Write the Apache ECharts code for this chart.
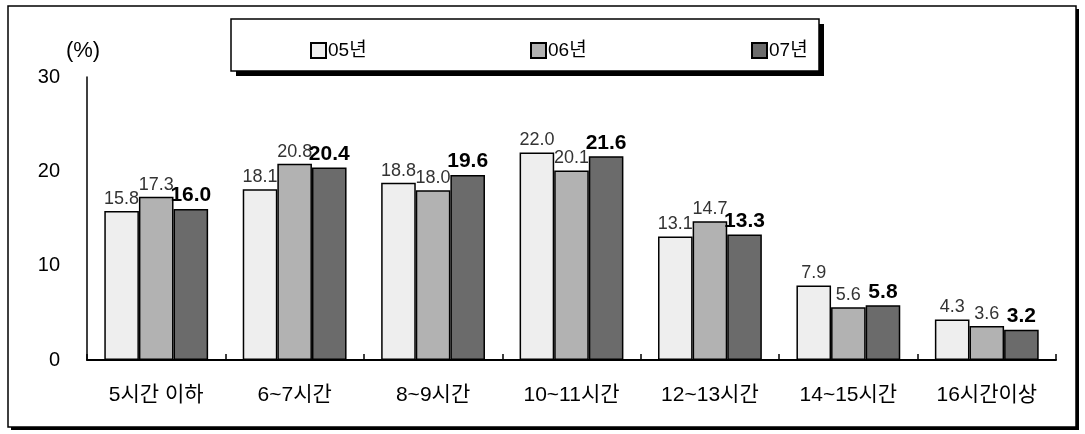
<!DOCTYPE html>
<html>
<head>
<meta charset="utf-8">
<script src="https://cdn.jsdelivr.net/npm/echarts@6/dist/echarts.min.js"></script>
<style>
html,body{margin:0;padding:0;background:#fff;}
#c{width:1085px;height:434px;}
</style>
</head>
<body>
<div id="c"></div>
<script>
const categories = ['5시간 이하', '6~7시간', '8~9시간', '10~11시간', '12~13시간', '14~15시간', '16시간이상'];
const seriesNames = ['05년', '06년', '07년'];
const values05 = [15.8, 18.1, 18.8, 22.0, 13.1, 7.9, 4.3];
const values06 = [17.3, 20.8, 18.0, 20.1, 14.7, 5.6, 3.6];
const values07 = [16.0, 20.4, 19.6, 21.6, 13.3, 5.8, 3.2];
const yTicks = [0, 10, 20, 30];

const colors = ['#eeeeee', '#b2b2b2', '#6b6b6b'];
const FONT = "'Liberation Sans', 'Noto Sans CJK KR', sans-serif";

const chart = echarts.init(document.getElementById('c'), null, {renderer: 'canvas'});

function mkSeries(name, data, color, bold) {
  return {
    name: name,
    type: 'bar',
    data: data,
    barGap: '0%',
    barCategoryGap: '25%',
    itemStyle: {color: color, borderColor: '#000', borderWidth: 1.5},
    label: {
      show: true,
      position: 'top',
      distance: 3,
      formatter: p => p.value.toFixed(1),
      fontFamily: FONT,
      fontSize: bold ? 21 : 18,
      fontWeight: bold ? 'bold' : 'normal',
      color: bold ? '#000' : '#333'
    }
  };
}

const legendBase = {
  orient: 'horizontal',
  top: 36,
  itemWidth: 15,
  itemHeight: 15,
  itemGap: 4,
  icon: 'rect',
  textStyle: {fontFamily: FONT, fontSize: 19, color: '#000', padding: [0,0,0,-3]},
  selectedMode: false
};

chart.setOption({
  animation: false,
  backgroundColor: '#fff',
  graphic: [
    {type: 'rect', z: -10, shape: {x: 11, y: 9, width: 1068, height: 421}, style: {fill: '#000'}},
    {type: 'rect', z: -9, shape: {x: 8, y: 6, width: 1068, height: 421}, style: {fill: '#fff', stroke: '#000', lineWidth: 1.5}},
    {type: 'rect', z: -8, shape: {x: 236, y: 24, width: 588, height: 52}, style: {fill: '#000'}},
    {type: 'rect', z: -7, shape: {x: 231, y: 19, width: 588, height: 52}, style: {fill: '#fff', stroke: '#000', lineWidth: 1.5}}
  ],
  legend: [
    Object.assign({}, legendBase, {left: 305, data: [seriesNames[0]]}),
    Object.assign({}, legendBase, {left: 525, data: [seriesNames[1]]}),
    Object.assign({}, legendBase, {left: 746, data: [seriesNames[2]]})
  ],
  grid: {left: 87, right: 29, top: 77, bottom: 74, containLabel: false},
  xAxis: {
    type: 'category',
    data: categories,
    axisLine: {lineStyle: {color: '#000', width: 2}},
    axisTick: {show: true, inside: true, length: 6, lineStyle: {color: '#000', width: 1.5}},
    axisLabel: {fontFamily: FONT, fontSize: 21, color: '#000', margin: 25}
  },
  yAxis: {
    type: 'value',
    min: yTicks[0],
    max: yTicks[yTicks.length - 1],
    interval: 10,
    name: '(%)',
    nameLocation: 'end',
    nameGap: 15,
    nameTextStyle: {fontFamily: FONT, fontSize: 22, color: '#000', padding: [0, 0, 0, -8]},
    axisLine: {show: true, lineStyle: {color: '#000', width: 1.5}},
    axisTick: {show: false},
    splitLine: {show: false},
    axisLabel: {fontFamily: FONT, fontSize: 20, color: '#000', margin: 27}
  },
  series: [
    mkSeries(seriesNames[0], values05, colors[0], false),
    mkSeries(seriesNames[1], values06, colors[1], false),
    mkSeries(seriesNames[2], values07, colors[2], true)
  ]
});
</script>
</body>
</html>
